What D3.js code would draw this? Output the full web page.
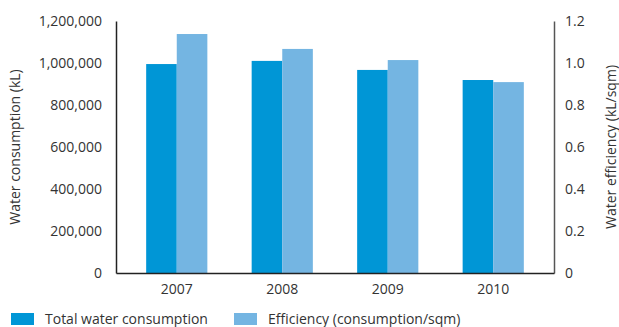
<!DOCTYPE html>
<html>
<head>
<meta charset="utf-8">
<script src="https://cdn.jsdelivr.net/npm/d3@7"></script>
<style>
  body { margin: 0; background: #fff; }
  text { font-family: "Open Sans", "Noto Sans", sans-serif; fill: #333; }
</style>
</head>
<body>
<div id="chart"></div>
<script>
// Water consumption vs efficiency, 2007-2010
var years = ["2007", "2008", "2009", "2010"];
var consumption = [995000, 1010000, 967000, 919000];   // kL
var efficiency = [1.138, 1.067, 1.014, 0.909];         // kL/sqm
var leftTicks = [0, 200000, 400000, 600000, 800000, 1000000, 1200000];
var rightTicks = [0, 0.2, 0.4, 0.6, 0.8, 1.0, 1.2];
var seriesNames = ["Total water consumption", "Efficiency (consumption/sqm)"];
var colors = ["#0096d6", "#74b5e2"];

var totalW = 619, totalH = 327;
var plotL = 116, plotR = 554, plotT = 21, plotB = 273;

var svg = d3.select("#chart").append("svg")
    .attr("width", totalW)
    .attr("height", totalH);

// --- Scales ---
var x = d3.scaleBand()
    .domain(years)
    .range([plotL, plotR])
    .paddingInner(0)
    .paddingOuter(0.076);

var yL = d3.scaleLinear().domain([0, 1200000]).range([plotB, plotT]);
var yR = d3.scaleLinear().domain([0, 1.2]).range([plotB, plotT]);

var barW = x.bandwidth() * 0.29;

// --- Bars ---
var g = svg.append("g");
g.selectAll(".bar-c")
    .data(years)
    .enter().append("rect")
    .attr("class", "bar-c")
    .attr("x", function(d) { return x(d) + x.bandwidth() / 2 - barW; })
    .attr("y", function(d, i) { return yL(consumption[i]); })
    .attr("width", barW)
    .attr("height", function(d, i) { return plotB - yL(consumption[i]); })
    .attr("fill", colors[0]);

g.selectAll(".bar-e")
    .data(years)
    .enter().append("rect")
    .attr("class", "bar-e")
    .attr("x", function(d) { return x(d) + x.bandwidth() / 2; })
    .attr("y", function(d, i) { return yR(efficiency[i]); })
    .attr("width", barW)
    .attr("height", function(d, i) { return plotB - yR(efficiency[i]); })
    .attr("fill", colors[1]);

// --- Axes ---
var fmt = d3.format(",.0f");

var axL = svg.append("g")
    .attr("transform", "translate(" + plotL + ",0)")
    .call(d3.axisLeft(yL).tickValues(leftTicks).tickSize(0).tickPadding(14).tickFormat(fmt));
axL.select(".domain").attr("stroke", "#222").attr("stroke-width", 1.5);
axL.selectAll("text").style("font-size", "14px").attr("fill", "#333");

var axR = svg.append("g")
    .attr("transform", "translate(" + plotR + ",0)")
    .call(d3.axisRight(yR).tickValues(rightTicks).tickSize(0).tickPadding(11)
        .tickFormat(function(d) { return d === 0 ? "0" : d3.format(".1f")(d); }));
axR.select(".domain").attr("stroke", "#555").attr("stroke-width", 1.5);
axR.selectAll("text").style("font-size", "14px").attr("fill", "#333");

var axB = svg.append("g")
    .attr("transform", "translate(0," + plotB + ")")
    .call(d3.axisBottom(x).tickSize(0).tickPadding(11));
axB.select(".domain").attr("stroke", "#222").attr("stroke-width", 1.5);
axB.selectAll("text").style("font-size", "14px").attr("fill", "#333");

// --- Axis titles ---
svg.append("text")
    .attr("transform", "translate(20," + ((plotT + plotB) / 2) + ") rotate(-90)")
    .attr("text-anchor", "middle")
    .style("font-size", "14px")
    .text("Water consumption (kL)");

svg.append("text")
    .attr("transform", "translate(616," + ((plotT + plotB) / 2) + ") rotate(-90)")
    .attr("text-anchor", "middle")
    .style("font-size", "14px")
    .text("Water efficiency (kL/sqm)");

// --- Legend ---
var legendX = [11, 234];
var leg = svg.selectAll(".legend")
    .data(seriesNames)
    .enter().append("g")
    .attr("class", "legend")
    .attr("transform", function(d, i) { return "translate(" + legendX[i] + ",313)"; });

leg.append("rect")
    .attr("width", 23)
    .attr("height", 12)
    .attr("fill", function(d, i) { return colors[i]; });

leg.append("text")
    .attr("x", 34)
    .attr("y", 6)
    .attr("dy", "0.35em")
    .style("font-size", "14px")
    .text(function(d) { return d; });
</script>
</body>
</html>
